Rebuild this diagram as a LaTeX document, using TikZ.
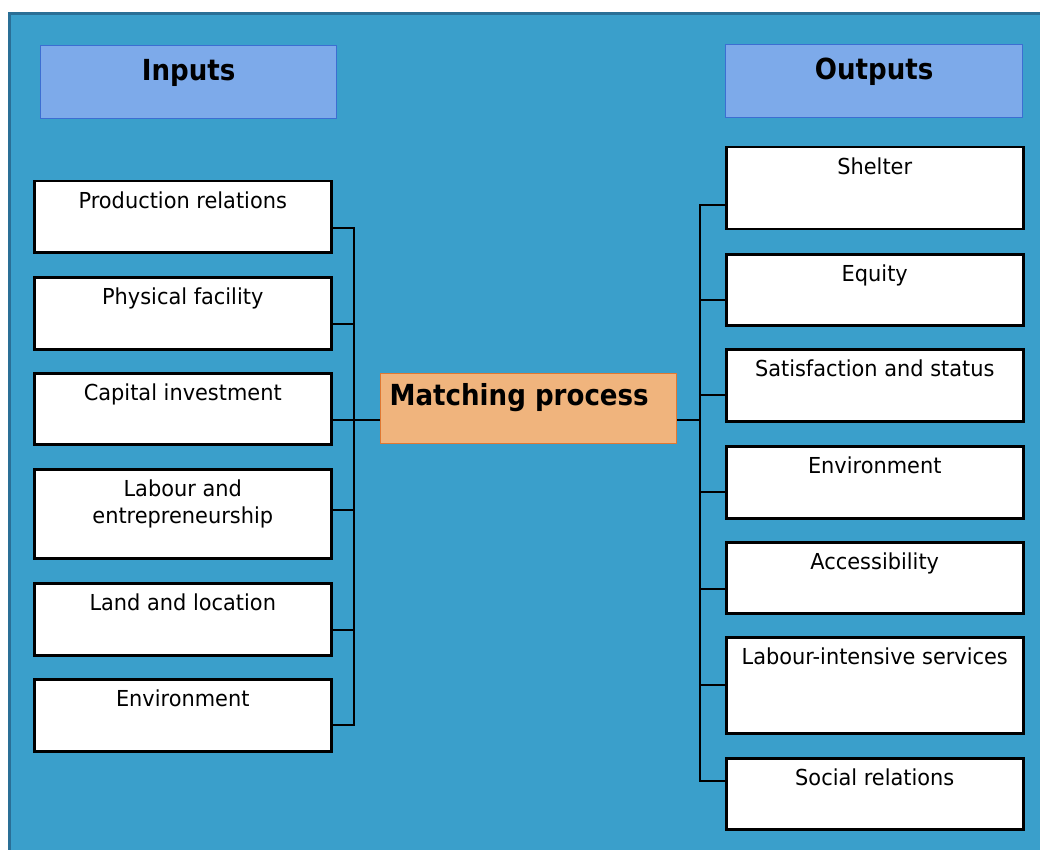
\documentclass[tikz,border=0pt]{standalone}
\usepackage{fontspec}
\setmainfont[FakeStretch=0.95]{DejaVu Sans}
\newfontfamily\headfont[FakeStretch=0.9]{DejaVu Sans}
\definecolor{bgblue}{HTML}{3A9FCB}
\definecolor{bgdark}{HTML}{2A6F96}
\definecolor{headfill}{HTML}{7DAAEA}
\definecolor{headborder}{HTML}{3C6ED2}
\definecolor{procfill}{HTML}{F0B47D}
\definecolor{procborder}{HTML}{E07832}
\newcommand\boxtxt[3]{\parbox[c][#2pt][t]{#1pt}{\centering\fontsize{22}{27}\selectfont\rule{0pt}{27pt}#3\par}}
\newcommand\headtxt[3]{\parbox[c][#2pt][t]{#1pt}{\centering\headfont\bfseries\fontsize{29}{34}\selectfont\rule{0pt}{35pt}#3\par}}
\begin{document}
\begin{tikzpicture}[x=1pt,y=-1pt,
  box/.style={draw=black, line width=2.5pt, fill=white, inner sep=0pt, anchor=north west},
  headbox/.style={draw=headborder, line width=1.2pt, fill=headfill, inner sep=0pt, anchor=north west},
  procbox/.style={draw=procborder, line width=1.2pt, fill=procfill, inner sep=0pt, anchor=north west},
  conn/.style={draw=black, line width=2.5pt}]
\useasboundingbox (0,0) rectangle (1040,850);
\fill[white] (0,0) rectangle (1040,850);
\fill[bgblue] (8,12) rectangle (1040,850);
\draw[bgdark, line width=3pt] (9.5,850) -- (9.5,13.5) -- (1040,13.5);

% headers
\node[headbox] (inputs) at (40,45) {\headtxt{296}{73}{Inputs}};
\node[headbox] (outputs) at (725,44) {\headtxt{297}{73}{Outputs}};

% inputs
\node[box] (i1) at (33,180) {\boxtxt{297}{71}{Production relations}};
\node[box] (i2) at (33,276) {\boxtxt{297}{72}{Physical facility}};
\node[box] (i3) at (33,372) {\boxtxt{297}{71}{Capital investment}};
\node[box] (i4) at (33,468) {\boxtxt{297}{89}{Labour and\\entrepreneurship}};
\node[box] (i5) at (33,582) {\boxtxt{297}{72}{Land and location}};
\node[box] (i6) at (33,678) {\boxtxt{297}{72}{Environment}};

% process
\node[procbox] (proc) at (380,373) {\parbox[c][70pt][t]{296pt}{\raggedright\headfont\bfseries\fontsize{29}{34}\selectfont\hspace*{9pt}\rule{0pt}{32pt}Matching process\par}};

% outputs
\node[box] (o1) at (725,146) {\boxtxt{297}{82}{Shelter}};
\node[box] (o2) at (725,253) {\boxtxt{297}{71}{Equity}};
\node[box] (o3) at (725,348) {\boxtxt{297}{72}{Satisfaction and status}};
\node[box] (o4) at (725,445) {\boxtxt{297}{72}{Environment}};
\node[box] (o5) at (725,541) {\boxtxt{297}{71}{Accessibility}};
\node[box] (o6) at (725,636) {\boxtxt{297}{96}{Labour-intensive services}};
\node[box] (o7) at (725,757) {\boxtxt{297}{71}{Social relations}};

% left bus
\coordinate (lbt) at (354,228);
\coordinate (lbb) at (354,725);
\draw[conn, line cap=rect] (lbt) -- (lbb);
\draw[conn] (i1.east |- 0,228) -- (354,228);
\draw[conn] (i2.east |- 0,324) -- (354,324);
\draw[conn] (i3.east |- 0,420) -- (354,420);
\draw[conn] (i4.east |- 0,510) -- (354,510);
\draw[conn] (i5.east |- 0,630) -- (354,630);
\draw[conn] (i6.east |- 0,725) -- (354,725);
\draw[conn] (354,420) -- (proc.west |- 0,420);

% right bus
\coordinate (rbt) at (700,205);
\coordinate (rbb) at (700,781);
\draw[conn, line cap=rect] (rbt) -- (rbb);
\draw[conn] (proc.east |- 0,420) -- (700,420);
\draw[conn] (700,205) -- (o1.west |- 0,205);
\draw[conn] (700,300) -- (o2.west |- 0,300);
\draw[conn] (700,395) -- (o3.west |- 0,395);
\draw[conn] (700,492) -- (o4.west |- 0,492);
\draw[conn] (700,589) -- (o5.west |- 0,589);
\draw[conn] (700,685) -- (o6.west |- 0,685);
\draw[conn] (700,781) -- (o7.west |- 0,781);
\end{tikzpicture}
\end{document}
